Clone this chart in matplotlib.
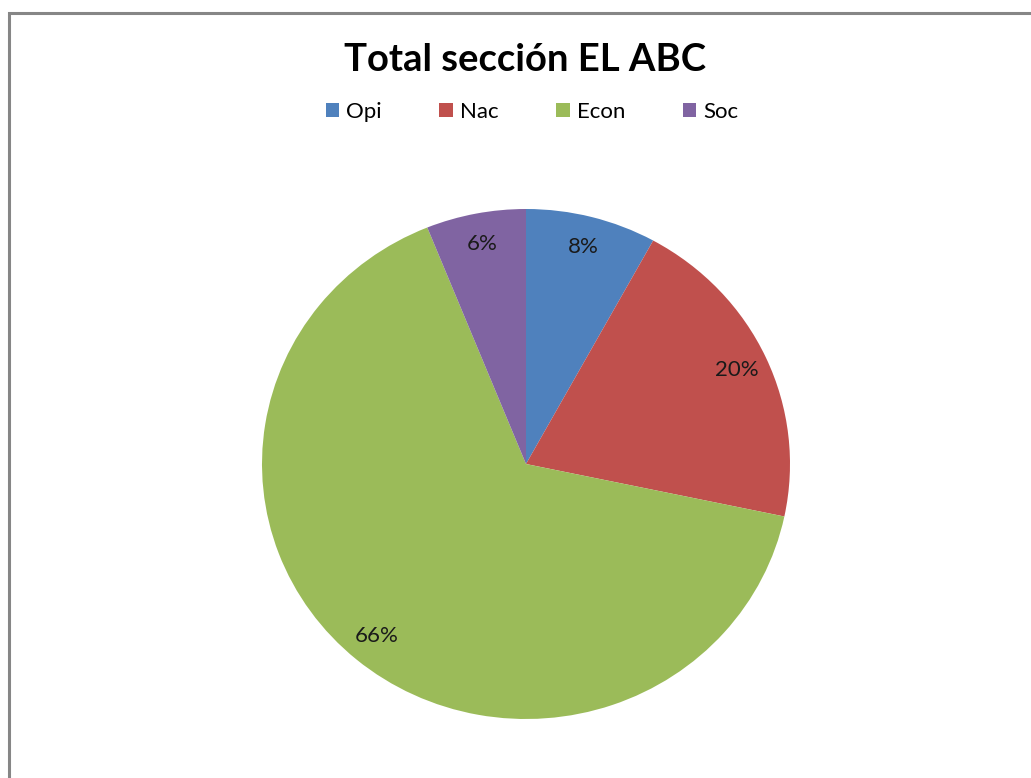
import matplotlib.pyplot as plt
from matplotlib.patches import Rectangle

# datos
categorias = ["Opi", "Nac", "Econ", "Soc"]
valores = [8.0, 20.3, 65.6, 6.1]
colores = ["#4F81BD", "#C0504D", "#9BBB59", "#8064A2"]
titulo = "Total sección EL ABC"

plt.rcParams['font.family'] = ['Lato', 'DejaVu Sans']

fig = plt.figure(figsize=(10.31, 7.78), dpi=100)
fig.patch.set_facecolor("white")

# marco gris del area del grafico (solo se ven borde izq. y sup.)
fig.patches.append(Rectangle((9 / 1031, -0.1), 1.2, 1.1 - 13 / 778,
                             transform=fig.transFigure, fill=False,
                             edgecolor="#868686", linewidth=2.2, zorder=0))

ax = fig.add_axes([262 / 1031, 59 / 778, 528 / 1031, 510 / 778])
wedges, textos, autotextos = ax.pie(
    valores, colors=colores, startangle=90, counterclock=False,
    autopct="%.0f%%", pctdistance=0.88, radius=1,
    textprops=dict(fontsize=16, color="#1a1a1a"))
ax.set_aspect("auto")
ax.set_xlim(-1, 1)
ax.set_ylim(-1, 1)
ax.axis("off")

fig.text(525 / 1031, 1 - 60 / 778, titulo, ha="center", va="center",
         fontsize=27.5, fontweight="bold", color="black")

fig.legend(wedges, categorias, loc="center", bbox_to_anchor=(532 / 1031, 1 - 112 / 778),
           ncol=4, frameon=False, fontsize=16, handlelength=0.6, handleheight=0.6,
           handletextpad=0.32, columnspacing=2.6)

fig.savefig("out.png", dpi=100, facecolor="white")
